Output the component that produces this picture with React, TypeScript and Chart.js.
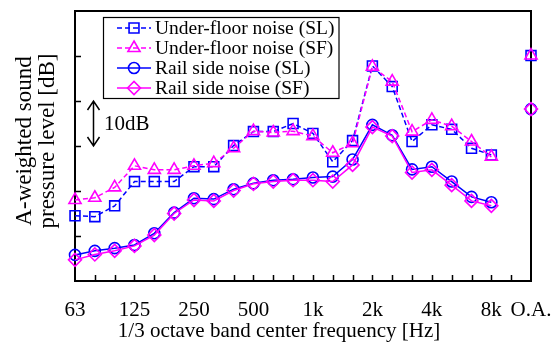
import React, { useEffect, useRef } from 'react';
import { Chart, registerables } from 'chart.js';
import { drawPoint } from 'chart.js/helpers';

Chart.register(...registerables);

const categories = ['63', '80', '100', '125', '160', '200', '250', '315', '400', '500', '630', '800', '1k', '1.25k', '1.6k', '2k', '2.5k', '3.15k', '4k', '5k', '6.3k', '8k', '', 'O.A.'];
const tickLabels = ['63', '', '', '125', '', '', '250', '', '', '500', '', '', '1k', '', '', '2k', '', '', '4k', '', '', '8k', '', 'O.A.'];

const underFloorSL = [14.5, 14.3, 16.7, 22.1, 22.1, 22.1, 25.4, 25.4, 30.1, 33.2, 33.2, 35.0, 32.8, 26.5, 31.2, 47.8, 43.2, 31.0, 34.7, 33.7, 29.5, 28.0, null, 50.1];
const underFloorSF = [18.0, 18.5, 20.8, 25.6, 24.7, 24.7, 25.6, 26.2, 29.5, 33.3, 33.0, 33.3, 32.2, 28.5, 30.6, 47.6, 44.3, 33.2, 35.8, 34.4, 31.0, 27.6, null, 50.1];
const railSideSL = [5.8, 6.7, 7.3, 8.0, 10.6, 15.2, 18.4, 18.2, 20.4, 21.7, 22.4, 22.6, 23.0, 23.2, 27.0, 34.7, 32.4, 24.8, 25.4, 22.1, 18.7, 17.5, null, 38.2];
const railSideSF = [4.7, 5.9, 6.7, 7.8, 10.2, 15.0, 18.0, 17.8, 20.1, 21.6, 22.1, 22.4, 22.4, 22.1, 25.8, 34.2, 32.2, 24.1, 24.7, 21.3, 17.8, 16.7, null, 38.2];

const yTickValues = [10, 20, 30, 40, 50];
const seriesNames = ['Under-floor noise (SL)', 'Under-floor noise (SF)', 'Rail side noise (SL)', 'Rail side noise (SF)'];

const FONT = '"Liberation Serif", "Times New Roman", serif';
const BLUE = '#0000ff';
const MAGENTA = '#ff00ff';

const framePlugin = {
  id: 'frame',
  beforeDatasetsDraw(chart: any) {
    const { ctx, chartArea, scales } = chart;
    const { left, right, top, bottom } = chartArea;
    ctx.save();
    ctx.strokeStyle = '#000';
    ctx.lineWidth = 1.5;
    ctx.beginPath();
    for (const v of yTickValues) {
      const py = Math.round(scales.y.getPixelForValue(v)) + 0.5;
      ctx.moveTo(left, py);
      ctx.lineTo(left + 6, py);
    }
    for (let i = 1; i < categories.length - 1; i++) {
      const px = Math.round(scales.x.getPixelForValue(i)) + 0.5;
      ctx.moveTo(px, bottom);
      ctx.lineTo(px, bottom - 6);
    }
    ctx.stroke();
    ctx.lineWidth = 2;
    ctx.strokeRect(left, top, right - left, bottom - top);
    ctx.restore();
  },
  afterDraw(chart: any) {
    const { ctx, scales } = chart;
    ctx.save();
    // legend
    const bx = 103.5, by = 17.5, bw = 235.5, bh = 81;
    ctx.fillStyle = '#fff';
    ctx.fillRect(bx, by, bw, bh);
    ctx.strokeStyle = '#000';
    ctx.lineWidth = 1.2;
    ctx.strokeRect(bx, by, bw, bh);
    chart.data.datasets.forEach((ds: any, i: number) => {
      const ry = 28 + i * 20;
      ctx.save();
      ctx.strokeStyle = ds.borderColor;
      ctx.lineWidth = ds.borderWidth;
      ctx.setLineDash(ds.borderDash || []);
      ctx.beginPath();
      ctx.moveTo(117, ry);
      ctx.lineTo(151, ry);
      ctx.stroke();
      ctx.setLineDash([]);
      ctx.lineWidth = ds.pointBorderWidth;
      ctx.strokeStyle = ds.pointBorderColor;
      ctx.fillStyle = 'rgba(0,0,0,0)';
      drawPoint(ctx, { pointStyle: ds.pointStyle, radius: ds.pointRadius, rotation: 0, borderWidth: ds.pointBorderWidth }, 134, ry);
      ctx.restore();
      ctx.fillStyle = '#000';
      ctx.font = `19.5px ${FONT}`;
      ctx.textBaseline = 'middle';
      ctx.textAlign = 'left';
      ctx.fillText(ds.label, 155, ry + 1);
    });
    // 10dB arrow
    const ax = 93.5;
    const y1 = scales.y.getPixelForValue(40);
    const y2 = scales.y.getPixelForValue(30);
    ctx.strokeStyle = '#000';
    ctx.lineWidth = 1.5;
    ctx.beginPath();
    ctx.moveTo(ax, y1);
    ctx.lineTo(ax, y2);
    ctx.moveTo(ax - 6, y1 + 9);
    ctx.lineTo(ax, y1);
    ctx.lineTo(ax + 6, y1 + 9);
    ctx.moveTo(ax - 6, y2 - 9);
    ctx.lineTo(ax, y2);
    ctx.lineTo(ax + 6, y2 - 9);
    ctx.stroke();
    ctx.fillStyle = '#000';
    ctx.font = `21px ${FONT}`;
    ctx.textBaseline = 'middle';
    ctx.textAlign = 'left';
    ctx.fillText('10dB', 104, (y1 + y2) / 2 + 1);
    // axis titles
    ctx.textAlign = 'center';
    ctx.fillText('1/3 octave band center frequency [Hz]', 279, 331);
    ctx.font = `23px ${FONT}`;
    ctx.save();
    ctx.translate(25, 141);
    ctx.rotate(-Math.PI / 2);
    ctx.fillText('A-weighted sound', 0, 0);
    ctx.restore();
    ctx.save();
    ctx.translate(48, 141);
    ctx.rotate(-Math.PI / 2);
    ctx.fillText('pressure level [dB]', 0, 0);
    ctx.restore();
    ctx.restore();
  },
};

function makeDataset(label: string, data: (number | null)[], color: string, dashed: boolean, style: string, radius: number, order: number) {
  return {
    label,
    data,
    borderColor: color,
    backgroundColor: 'rgba(0,0,0,0)',
    borderWidth: 1.5,
    borderDash: dashed ? [5, 3] : [],
    pointStyle: style,
    pointRadius: radius,
    pointBorderWidth: 1.6,
    pointBorderColor: color,
    pointBackgroundColor: 'rgba(0,0,0,0)',
    tension: 0,
    spanGaps: false,
    clip: false,
    order,
  };
}

export default function App() {
  const ref = useRef<HTMLCanvasElement>(null);
  useEffect(() => {
    document.body.style.margin = '0';
    const chart = new Chart(ref.current!, {
      type: 'line',
      data: {
        labels: categories,
        datasets: [
          makeDataset(seriesNames[0], underFloorSL, BLUE, true, 'rect', 7, 4),
          makeDataset(seriesNames[1], underFloorSF, MAGENTA, true, 'triangle', 7, 3),
          makeDataset(seriesNames[2], railSideSL, BLUE, false, 'circle', 5.5, 2),
          makeDataset(seriesNames[3], railSideSF, MAGENTA, false, 'rectRot', 6.5, 1),
        ] as any,
      },
      options: {
        responsive: false,
        animation: false,
        layout: { padding: { left: 75, right: 22, top: 11, bottom: 0 } },
        plugins: { legend: { display: false }, tooltip: { enabled: false } },
        scales: {
          x: {
            type: 'category',
            offset: false,
            grid: { display: false },
            border: { display: false },
            ticks: {
              autoSkip: false,
              maxRotation: 0,
              padding: 9,
              color: '#000',
              font: { family: FONT, size: 21 },
              callback: (_v: any, i: number) => tickLabels[i],
            },
            afterFit: (s: any) => { s.height = 70; s.paddingLeft = 0; s.paddingRight = 0; },
          },
          y: {
            display: false,
            min: 0,
            max: 60,
          },
        },
      },
      plugins: [framePlugin],
    });
    return () => chart.destroy();
  }, []);
  return (
    <div style={{ width: 553, height: 351 }}>
      <canvas ref={ref} width={553} height={351} />
    </div>
  );
}
